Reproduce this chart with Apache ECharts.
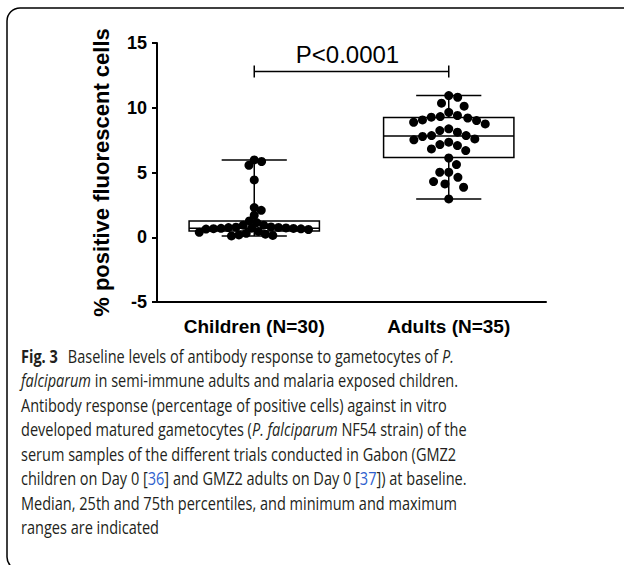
<!DOCTYPE html>
<html>
<head>
<meta charset="utf-8">
<script src="https://cdn.jsdelivr.net/npm/echarts@6/dist/echarts.min.js"></script>
<style>
html,body{margin:0;padding:0;background:#fff;}
#chart{width:624px;height:565px;}
</style>
</head>
<body>
<div id="chart"></div>
<script>
// ---------- data ----------
const categories = ['Children (N=30)', 'Adults (N=35)'];
const childrenValues = [5.97, 5.85, 5.56, 4.43, 2.29, 2.08, 1.70, 1.26, 1.13, 0.93, 0.93,
  0.80, 0.78, 0.76, 0.75, 0.72, 0.70, 0.69, 0.68, 0.66, 0.65, 0.63, 0.60,
  0.45, 0.38, 0.30, 0.24, 0.18, 0.14, 0.10];
const adultsValues = [10.94, 10.81, 10.35, 10.12, 9.65, 9.40, 9.27, 9.01, 8.75, 9.06, 9.21, 9.32,
  8.88, 8.37, 8.24, 8.11, 7.85, 7.59, 7.78, 7.85, 7.52, 7.34, 7.08, 7.16, 6.82, 6.69,
  6.12, 5.61, 5.02, 5.02, 4.63, 4.30, 4.12, 3.86, 2.96];
// [min, Q1, median, Q3, max]
const childrenBox = [0.10, 0.49, 0.70, 1.26, 5.97];
const adultsBox = [2.96, 6.15, 7.82, 9.24, 10.94];
const yTicks = [-5, 0, 5, 10, 15];
const yAxisName = '% positive fluorescent cells';
const pValueLabel = 'P<0.0001';
const bracketLevel = 12.8;
const captionLines = [
  '{b|Fig. 3}Baseline levels of antibody response to gametocytes of {i|P.}',
  '{i|falciparum} in semi-immune adults and malaria exposed children.',
  'Antibody response (percentage of positive cells) against in vitro',
  'developed matured gametocytes ({i|P. falciparum} NF54 strain) of the',
  'serum samples of the different trials conducted in Gabon (GMZ2',
  'children on Day 0 [{l|36}] and GMZ2 adults on Day 0 [{l|37}]) at baseline.',
  'Median, 25th and 75th percentiles, and minimum and maximum',
  'ranges are indicated'
];

// ---------- styling ----------
const FONT = '"Liberation Sans", Arial, sans-serif';
const CAP_FONT = '"Open Sans", "Noto Sans", sans-serif';
const BOX_WIDTH = 0.67;   // in category units
const DOT = 9;

const chart = echarts.init(document.getElementById('chart'), null, {renderer: 'svg'});

const boxData = [[0].concat(childrenBox), [1].concat(adultsBox)];

function boxRender(params, api) {
  const x = api.value(0);
  const w = api.size([BOX_WIDTH, 0])[0];
  const cap = w / 2;
  const pMin = api.coord([x, api.value(1)]);
  const pQ1 = api.coord([x, api.value(2)]);
  const pMed = api.coord([x, api.value(3)]);
  const pQ3 = api.coord([x, api.value(4)]);
  const pMax = api.coord([x, api.value(5)]);
  const cx = pMed[0];
  const ls = {stroke: '#000', lineWidth: 1.5, fill: null};
  return {
    type: 'group',
    children: [
      {type: 'line', shape: {x1: cx, y1: pMax[1], x2: cx, y2: pQ3[1]}, style: ls},
      {type: 'line', shape: {x1: cx, y1: pQ1[1], x2: cx, y2: pMin[1]}, style: ls},
      {type: 'line', shape: {x1: cx - cap / 2, y1: pMax[1], x2: cx + cap / 2, y2: pMax[1]}, style: ls},
      {type: 'line', shape: {x1: cx - cap / 2, y1: pMin[1], x2: cx + cap / 2, y2: pMin[1]}, style: ls},
      {type: 'rect', shape: {x: cx - w / 2, y: pQ3[1], width: w, height: pQ1[1] - pQ3[1]},
        style: {stroke: '#000', lineWidth: 1.5, fill: '#fff'}},
      {type: 'line', shape: {x1: cx - w / 2, y1: pMed[1], x2: cx + w / 2, y2: pMed[1]}, style: ls}
    ]
  };
}

function bracketRender(params, api) {
  const a = api.coord([api.value(0), api.value(2)]);
  const b = api.coord([api.value(1), api.value(2)]);
  const ls = {stroke: '#000', lineWidth: 1.5};
  return {
    type: 'group',
    children: [
      {type: 'line', shape: {x1: a[0], y1: a[1], x2: b[0], y2: b[1]}, style: ls},
      {type: 'line', shape: {x1: a[0], y1: a[1] - 6, x2: a[0], y2: a[1] + 6}, style: ls},
      {type: 'line', shape: {x1: b[0], y1: b[1] - 6, x2: b[0], y2: b[1] + 6}, style: ls},
      {type: 'text', style: {x: (a[0] + b[0]) / 2 - 4, y: a[1] - 5, text: pValueLabel,
        fontFamily: FONT, fontSize: 24, fill: '#000', align: 'center', verticalAlign: 'bottom'}}
    ]
  };
}

const capGraphics = [
  {type: 'rect', shape: {x: 7, y: 8, width: 700, height: 562, r: 13},
    style: {stroke: '#000', lineWidth: 1.5, fill: null}, silent: true}
];
captionLines.forEach(function (t, i) {
  capGraphics.push({
    type: 'text',
    x: 21, y: 356 + i * 24.5,
    scaleX: 0.83, scaleY: 1,
    style: {
      text: t, fontFamily: CAP_FONT, fontSize: 17.5, fill: '#231f20',
      align: 'left', verticalAlign: 'middle',
      rich: {
        b: {fontFamily: CAP_FONT, fontSize: 17.5, fontWeight: 'bold', fill: '#231f20', padding: [0, 12, 0, 0]},
        i: {fontFamily: CAP_FONT, fontSize: 17.5, fontStyle: 'italic', fill: '#231f20'},
        l: {fontFamily: CAP_FONT, fontSize: 17.5, fill: '#2e5fce'}
      }
    }
  });
});

const axisLineStyle = {color: '#000', width: 2};
const option = {
  animation: false,
  backgroundColor: '#fff',
  grid: {left: 157, top: 43, width: 389, height: 259, containLabel: false, outerBoundsMode: 'none'},
  xAxis: [
    {type: 'category', data: categories, boundaryGap: true,
      axisLine: {onZero: false, lineStyle: axisLineStyle},
      axisTick: {alignWithLabel: true, length: 5, lineStyle: axisLineStyle},
      axisLabel: {color: '#000', fontFamily: FONT, fontWeight: 'bold', fontSize: 19, margin: 15},
      splitLine: {show: false}},
    {type: 'value', min: -0.5, max: 1.5, show: false, axisLine: {onZero: false}, splitLine: {show: false}}
  ],
  yAxis: {
    type: 'value', min: yTicks[0], max: yTicks[yTicks.length - 1], interval: yTicks[1] - yTicks[0],
    name: yAxisName, nameLocation: 'middle', nameRotate: 90, nameGap: 45,
    nameTextStyle: {color: '#000', fontFamily: FONT, fontWeight: 'bold', fontSize: 22},
    axisLine: {show: true, onZero: false, lineStyle: axisLineStyle},
    axisTick: {show: true, length: 5, lineStyle: axisLineStyle},
    axisLabel: {color: '#000', fontFamily: FONT, fontWeight: 'bold', fontSize: 18, margin: 10},
    splitLine: {show: false}
  },
  graphic: capGraphics,
  series: [
    {type: 'custom', name: 'box', xAxisIndex: 1, yAxisIndex: 0, renderItem: boxRender,
      data: boxData, encode: {x: 0, y: [1, 2, 3, 4, 5]}, z: 2, silent: true},
    {type: 'custom', name: 'bracket', xAxisIndex: 1, yAxisIndex: 0, renderItem: bracketRender,
      data: [[0, 1, bracketLevel]], encode: {x: [0, 1], y: 2}, z: 2, silent: true},
    {type: 'scatter', name: 'Children', xAxisIndex: 1, yAxisIndex: 0, data: [],
      symbolSize: DOT, itemStyle: {color: '#000', opacity: 1}, z: 5, silent: true},
    {type: 'scatter', name: 'Adults', xAxisIndex: 1, yAxisIndex: 0, data: [],
      symbolSize: DOT, itemStyle: {color: '#000', opacity: 1}, z: 5, silent: true}
  ]
};
chart.setOption(option);

// beeswarm layout computed from the values through the axes' scales
const finder = {xAxisIndex: 1, yAxisIndex: 0};
const x0 = chart.convertToPixel(finder, [0, 0])[0];
const pxPerUnit = chart.convertToPixel(finder, [1, 0])[0] - x0;
function beeswarm(values, center, diam, vk) {
  const items = values.map(function (v) { return {v: v, py: chart.convertToPixel(finder, [center, v])[1]}; });
  items.sort(function (a, b) { return a.py - b.py; });
  const placed = [];
  const out = [];
  let side = 1;
  items.forEach(function (p) {
    const near = placed.filter(function (q) { return Math.abs(q.py - p.py) * vk < diam; });
    const cand = [0];
    near.forEach(function (q) {
      const dy = (q.py - p.py) * vk;
      const d = Math.sqrt(diam * diam - dy * dy);
      cand.push(q.px + d, q.px - d);
    });
    cand.sort(function (a, b) {
      const da = Math.abs(a) - Math.abs(b);
      if (Math.abs(da) > 1e-6) return da;
      return side * (b - a);
    });
    let chosen = 0;
    for (let k = 0; k < cand.length; k++) {
      const c = cand[k];
      const ok = near.every(function (q) {
        const dy = (q.py - p.py) * vk;
        return (q.px - c) * (q.px - c) + dy * dy >= diam * diam - 0.01;
      });
      if (ok) { chosen = c; break; }
    }
    if (chosen !== 0) side = -side;
    placed.push({px: chosen, py: p.py});
    out.push([center + chosen / pxPerUnit, p.v]);
  });
  return out;
}
chart.setOption({series: [{}, {}, {data: beeswarm(childrenValues, 0, 7.5, 1.0)}, {data: beeswarm(adultsValues, 1, 9, 0.7)}]});
</script>
</body>
</html>
